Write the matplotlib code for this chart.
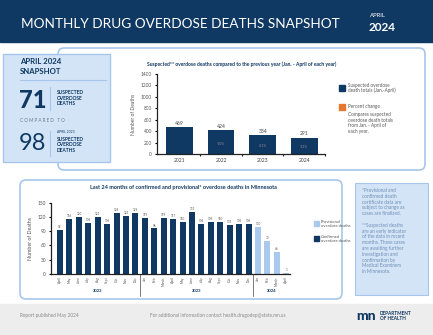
import matplotlib.pyplot as plt
from matplotlib.patches import FancyBboxPatch, Rectangle

plt.rcParams['font.family'] = ['Lato', 'DejaVu Sans']

W, H = 433, 335
NAVY = '#0f3863'
LIGHT = '#a9c9ee'
BOXFILL = '#d4e4f7'
BORDER = '#a7c6ec'
GREYTXT = '#6b7a90'
ORANGE = '#e8772e'

# top chart: suspected deaths Jan-April
years = ['2021', '2022', '2023', '2024']
suspected = [469, 424, 334, 291]
pct_change = ['', '-10%', '-21%', '-13%']

# bottom chart: monthly deaths
months = ['April', 'May', 'June', 'July', 'Aug', 'Sept', 'Oct', 'Nov', 'Dec',
          'Jan', 'Feb', 'March', 'April', 'May', 'June', 'July', 'Aug', 'Sept',
          'Oct', 'Nov', 'Dec', 'Jan', 'Feb', 'March', 'April']
deaths = [92, 116, 120, 108, 121, 106, 128, 123, 129, 119, 96, 119, 117,
          110, 131, 106, 109, 110, 103, 105, 106, 100, 70, 46, 1]
provisional = [False] * 21 + [True] * 4
year_groups = [('2022', 0, 8), ('2023', 9, 20), ('2024', 21, 24)]


def px_axes(fig, x0, y0, x1, y1):
    return fig.add_axes([x0 / W, 1 - y1 / H, (x1 - x0) / W, (y1 - y0) / H])


fig = plt.figure(figsize=(W / 100, H / 100), dpi=100)
bg = fig.add_axes([0, 0, 1, 1])
bg.set_xlim(0, W)
bg.set_ylim(H, 0)
bg.axis('off')

# header band
bg.add_patch(Rectangle((0, 0), W, 42, color=NAVY, zorder=1))
bg.text(21, 24, 'MONTHLY DRUG OVERDOSE DEATHS SNAPSHOT', color='white',
        fontsize=9.8, fontweight='normal', va='center', ha='left')
bg.text(370, 15.5, 'APRIL', color='white', fontsize=4.3, va='center')
bg.text(369, 27.5, '2024', color='white', fontsize=8.5, fontweight='bold', va='center')

# footer
bg.add_patch(Rectangle((0, 304), W, 31, color='#ededed', zorder=1))
bg.text(20, 316, 'Report published May 2024', color='#8a8a8a', fontsize=3.4, va='center')
bg.text(150, 316, 'For additional information contact health.drugodep@state.mn.us',
        color='#8a8a8a', fontsize=3.4, va='center')
bg.text(356, 316, 'mn', color=NAVY, fontsize=10, fontweight='black', va='center')
bg.text(380, 316, 'DEPARTMENT\nOF HEALTH', color=NAVY, fontsize=3.4,
        fontweight='bold', va='center', linespacing=1.0)

# boxes
bg.add_patch(FancyBboxPatch((58, 48), 367, 122, boxstyle='round,pad=0,rounding_size=6',
                            fc='white', ec=BORDER, lw=1.2, zorder=2))
bg.add_patch(Rectangle((3, 54), 107, 108, fc=BOXFILL, ec=BORDER, lw=1.0, zorder=3))
bg.add_patch(FancyBboxPatch((20, 180), 322, 119, boxstyle='round,pad=0,rounding_size=6',
                            fc='white', ec=BORDER, lw=1.2, zorder=2))
bg.add_patch(Rectangle((355, 183), 73, 112, fc=BOXFILL, ec=BORDER, lw=0.8, zorder=2))

# snapshot box
bg.text(20, 62, 'APRIL 2024', color=NAVY, fontsize=5.6, fontweight='bold', va='center', zorder=4)
bg.text(20, 71, 'SNAPSHOT', color=NAVY, fontsize=5.6, fontweight='bold', va='center', zorder=4)
bg.plot([20, 106], [80, 80], color=BORDER, lw=0.8, zorder=4)
bg.text(19, 100, '71', color=NAVY, fontsize=17, fontweight='black', va='center', zorder=4)
bg.plot([50, 50], [87, 110], color=BORDER, lw=0.8, zorder=4)
bg.text(57, 98, 'SUSPECTED\nOVERDOSE\nDEATHS', color=NAVY, fontsize=3.5,
        fontweight='bold', va='center', linespacing=1.1, zorder=4)
bg.text(20, 121, 'C O M P A R E D   T O', color=GREYTXT, fontsize=3.3, va='center', zorder=4)
bg.text(19, 143, '98', color=NAVY, fontsize=17, fontweight='normal', va='center', zorder=4)
bg.plot([50, 50], [131, 156], color=BORDER, lw=0.8, zorder=4)
bg.text(57, 132, 'APRIL 2023', color=NAVY, fontsize=2.4, va='center', zorder=4)
bg.text(57, 145, 'SUSPECTED\nOVERDOSE\nDEATHS', color=NAVY, fontsize=3.5,
        fontweight='bold', va='center', linespacing=1.1, zorder=4)

# top chart
bg.text(242, 64, 'Suspected** overdose deaths compared to the previous year (Jan. - April of each year)',
        color=NAVY, fontsize=3.6, fontweight='bold', ha='center', va='center', zorder=4)
ax1 = px_axes(fig, 156.7, 74, 325, 154.3)
ax1.patch.set_alpha(0)
x1 = list(range(len(years)))
ax1.bar(x1, suspected, width=0.64, color=NAVY)
for xi, v, p in zip(x1, suspected, pct_change):
    ax1.text(xi, v + 25, str(v), ha='center', va='bottom', fontsize=3.6, color='#444444')
    if p:
        ax1.text(xi, v * 0.42, p, ha='center', va='center', fontsize=2.4, color='#9a8f95')
ax1.set_ylim(0, 1400)
ax1.set_xlim(-0.55, 3.5)
ax1.set_yticks(range(0, 1401, 200))
ax1.set_xticks(x1)
ax1.set_xticklabels(years)
ax1.set_xticks([0.5, 1.5, 2.5, 3.5], minor=True)
ax1.tick_params(axis='x', which='major', length=0, labelsize=3.6, labelcolor='#444444', pad=3)
ax1.tick_params(axis='x', which='minor', length=1.5, width=0.8, color='#222222')
ax1.tick_params(axis='y', length=1.5, width=0.8, labelsize=3.4, labelcolor='#555555', pad=2)
for s in ['top', 'right']:
    ax1.spines[s].set_visible(False)
for s in ['left', 'bottom']:
    ax1.spines[s].set_linewidth(0.9)
    ax1.spines[s].set_color('#222222')
ax1.set_ylabel('Number of Deaths', fontsize=3.6, color='#555555', labelpad=3)

# top legend
bg.add_patch(Rectangle((338.5, 84.5), 6, 6, color=NAVY, zorder=4))
bg.text(348, 88, 'Suspected overdose\ndeath totals (Jan.-April)', color='#555555',
        fontsize=3.3, va='center', linespacing=1.1, zorder=4)
bg.add_patch(Rectangle((338.5, 103.5), 6, 6, color=ORANGE, zorder=4))
bg.text(348, 106.5, 'Percent change', color='#555555', fontsize=3.3, va='center', zorder=4)
bg.text(348, 112, 'Compares suspected\noverdose death totals\nfrom Jan. - April of\neach year.',
        color='#555555', fontsize=3.3, va='top', linespacing=1.15, zorder=4)

# bottom chart
bg.text(183, 187, 'Last 24 months of confirmed and provisional* overdose deaths in Minnesota',
        color=NAVY, fontsize=4.0, fontweight='bold', ha='center', va='center', zorder=4)
ax2 = px_axes(fig, 50.7, 203, 290, 273.7)
ax2.patch.set_alpha(0)
x2 = list(range(len(months)))
colors = [LIGHT if p else NAVY for p in provisional]
ax2.bar(x2, deaths, width=0.64, color=colors)
for xi, v in zip(x2, deaths):
    ax2.text(xi, v + 2, str(v), ha='center', va='bottom', fontsize=2.2, color='#555555')
ax2.set_ylim(0, 150)
ax2.set_xlim(-0.99, 24.4)
ax2.set_yticks(range(0, 151, 30))
ax2.set_xticks(x2)
ax2.set_xticklabels(months, rotation=90)
ax2.tick_params(axis='x', length=0, labelsize=2.4, labelcolor='#555555', pad=2)
ax2.tick_params(axis='y', length=1.5, width=0.8, labelsize=3.4, labelcolor='#555555', pad=2)
for s in ['top', 'right']:
    ax2.spines[s].set_visible(False)
for s in ['left', 'bottom']:
    ax2.spines[s].set_linewidth(0.9)
    ax2.spines[s].set_color('#222222')
ax2.set_ylabel('Number of Deaths', fontsize=3.8, color='#555555', labelpad=3)

# year group labels and separators
for name, a, b in year_groups:
    ax2.text((a + b) / 2, -0.24, name, transform=ax2.get_xaxis_transform(),
             ha='center', va='center', fontsize=3.0, fontweight='bold', color=NAVY)
for sep in [8.5, 20.5]:
    ax2.plot([sep, sep], [0, -0.32], transform=ax2.get_xaxis_transform(),
             color='#444444', lw=0.5, clip_on=False)

# bottom legend
bg.add_patch(Rectangle((313.5, 220.5), 5, 5, color=LIGHT, zorder=4))
bg.text(321, 224, 'Provisional\noverdose deaths', color='#555555', fontsize=3.0,
        va='center', linespacing=1.1, zorder=4)
bg.add_patch(Rectangle((313.5, 235.5), 5, 5, color=NAVY, zorder=4))
bg.text(321, 239, 'Confirmed\noverdose deaths', color='#555555', fontsize=3.0,
        va='center', linespacing=1.1, zorder=4)

# notes box
bg.text(362, 188, '*Provisional and\nconfirmed death\ncertificate data are\nsubject to change as\n'
        'cases are finalized.\n\n**Suspected deaths\nare an early indicator\nof the data in recent\n'
        'months. These cases\nare awaiting further\ninvestigation and\nconfirmation by\n'
        'Medical Examiners\nin Minnesota.',
        color='#6f8fb8', fontsize=3.4, va='top', linespacing=1.2, zorder=4)

fig.savefig('out.png', dpi=100)
